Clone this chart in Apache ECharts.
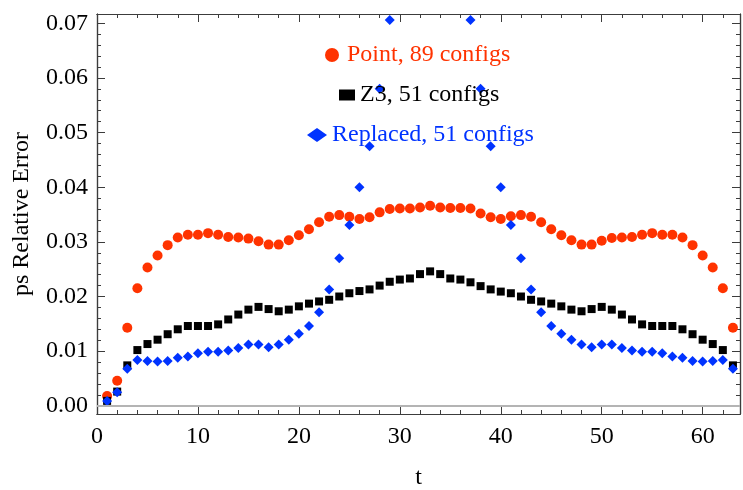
<!DOCTYPE html>
<html><head><meta charset="utf-8">
<script src="https://cdn.jsdelivr.net/npm/echarts@6/dist/echarts.min.js"></script>
<style>html,body{margin:0;padding:0;background:#fff}#c{width:743px;height:490px}</style>
</head><body><div id="c"></div>
<script>
const tValues = [1,2,3,4,5,6,7,8,9,10,11,12,13,14,15,16,17,18,19,20,21,22,23,24,25,26,27,28,29,30,31,32,33,34,35,36,37,38,39,40,41,42,43,44,45,46,47,48,49,50,51,52,53,54,55,56,57,58,59,60,61,62,63];
const pointErr = [0.0018,0.0046,0.0143,0.0215,0.0253,0.0275,0.0294,0.0308,0.0313,0.0313,0.0316,0.0313,0.0309,0.0308,0.0306,0.0301,0.0295,0.0295,0.0303,0.0312,0.0323,0.0336,0.0346,0.0349,0.0346,0.0342,0.0345,0.0354,0.0360,0.0361,0.0361,0.0363,0.0366,0.0363,0.0362,0.0362,0.0361,0.0352,0.0345,0.0342,0.0347,0.0349,0.0346,0.0336,0.0323,0.0312,0.0303,0.0295,0.0295,0.0302,0.0307,0.0308,0.0309,0.0313,0.0316,0.0313,0.0313,0.0308,0.0294,0.0275,0.0253,0.0215,0.0143];
const z3Err = [0.0009,0.0026,0.0074,0.0102,0.0113,0.0121,0.0131,0.0140,0.0146,0.0146,0.0146,0.0149,0.0158,0.0167,0.0176,0.0181,0.0177,0.0173,0.0176,0.0182,0.0187,0.0191,0.0194,0.0200,0.0206,0.0210,0.0213,0.0220,0.0227,0.0231,0.0233,0.0241,0.0246,0.0241,0.0233,0.0231,0.0226,0.0219,0.0213,0.0209,0.0206,0.0200,0.0194,0.0191,0.0187,0.0182,0.0176,0.0173,0.0177,0.0181,0.0176,0.0167,0.0158,0.0149,0.0146,0.0146,0.0146,0.0140,0.0131,0.0121,0.0113,0.0102,0.0074];
const replacedErr = [0.0009,0.0025,0.0068,0.0084,0.0082,0.0081,0.0082,0.0088,0.0090,0.0096,0.0099,0.0099,0.0101,0.0106,0.0112,0.0112,0.0107,0.0112,0.0121,0.0132,0.0146,0.0171,0.0213,0.0270,0.0331,0.0400,0.0475,0.0580,0.0706,0.083,0.093,0.099,0.101,0.099,0.093,0.083,0.0706,0.0580,0.0475,0.0400,0.0331,0.0270,0.0213,0.0171,0.0146,0.0132,0.0121,0.0112,0.0107,0.0112,0.0112,0.0106,0.0101,0.0099,0.0099,0.0096,0.0090,0.0088,0.0082,0.0081,0.0082,0.0084,0.0068];
const seriesNames = ['Point, 89 configs','Z3, 51 configs','Replaced, 51 configs'];
const xMajorTicks = [0,10,20,30,40,50,60];
const xMinorTicks = [2,4,6,8,12,14,16,18,22,24,26,28,32,34,36,38,42,44,46,48,52,54,56,58,62];
const yMajorTicks = [0,0.01,0.02,0.03,0.04,0.05,0.06,0.07];
const yMinorTicks = [0.002,0.004,0.006,0.008,0.012,0.014,0.016,0.018,0.022,0.024,0.026,0.028,0.032,0.034,0.036,0.038,0.042,0.044,0.046,0.048,0.052,0.054,0.056,0.058,0.062,0.064,0.066,0.068];

const SERIF = 'Liberation Serif';
const FRAME = '#3c3c3c';
const RED = '#ff3300', BLACK = '#000000', BLUE = '#0033ff';
const XMIN = 0, XMAX = 63.7, YMIN = -0.0015, YMAX = 0.0717;

function axis(kind, pos, ticks, len, labels, extra) {
  const a = {
    type: 'value', position: pos,
    min: kind === 'x' ? XMIN : YMIN, max: kind === 'x' ? XMAX : YMAX,
    axisLine: {show: true, onZero: false, lineStyle: {color: FRAME, width: 1.2}},
    axisTick: {show: true, inside: true, length: len, customValues: ticks, lineStyle: {color: FRAME, width: 1}},
    axisLabel: labels ? {show: true, customValues: ticks, fontFamily: SERIF, fontSize: 24, color: '#000',
      margin: kind === 'x' ? 11 : 9,
      formatter: kind === 'x' ? (v => String(v)) : (v => v.toFixed(2))} : {show: false},
    splitLine: {show: false}, minorTick: {show: false}, minorSplitLine: {show: false}
  };
  return Object.assign(a, extra || {});
}

const chart = echarts.init(document.getElementById('c'), null, {renderer: 'canvas'});
chart.setOption({
  animation: false,
  backgroundColor: '#fff',
  grid: {left: 97, right: 3, top: 14, bottom: 76, containLabel: false, outerBoundsMode: 'none'},
  xAxis: [
    axis('x', 'bottom', xMajorTicks, 8, true, {name: 't', nameLocation: 'middle', nameGap: 52,
      nameTextStyle: {fontFamily: SERIF, fontSize: 24, color: '#000'}}),
    axis('x', 'bottom', xMinorTicks, 4, false),
    axis('x', 'top', xMajorTicks, 8, false),
    axis('x', 'top', xMinorTicks, 4, false)
  ],
  yAxis: [
    axis('y', 'left', yMajorTicks, 8, true, {name: 'ps Relative Error', nameLocation: 'middle', nameGap: 63,
      nameTextStyle: {fontFamily: SERIF, fontSize: 24, color: '#000'}}),
    axis('y', 'left', yMinorTicks, 4, false),
    axis('y', 'right', yMajorTicks, 8, false),
    axis('y', 'right', yMinorTicks, 4, false)
  ],
  legend: [
    {data: [{name: seriesNames[0], icon: 'circle', textStyle: {color: RED}}], left: 325, top: 43,
     itemWidth: 20, itemHeight: 14, padding: 0, selectedMode: false,
     textStyle: {fontFamily: SERIF, fontSize: 24}},
    {data: [{name: seriesNames[1], icon: 'rect', textStyle: {color: BLACK}}], left: 339, top: 83,
     itemWidth: 16, itemHeight: 11, padding: 0, selectedMode: false,
     textStyle: {fontFamily: SERIF, fontSize: 24}},
    {data: [{name: seriesNames[2], icon: 'diamond', textStyle: {color: BLUE}}], left: 307, top: 123,
     itemWidth: 20, itemHeight: 14, padding: 0, selectedMode: false,
     textStyle: {fontFamily: SERIF, fontSize: 24}}
  ],
  series: [
    {name: 'axis0', type: 'line', data: [], z: 1, silent: true,
     markLine: {silent: true, symbol: 'none', animation: false, label: {show: false},
       lineStyle: {color: '#b4b4b4', width: 2, type: 'solid'}, data: [{yAxis: 0}]}},
    {name: seriesNames[0], type: 'scatter', symbol: 'circle', symbolSize: 10, clip: true,
     itemStyle: {color: RED, opacity: 1}, data: tValues.map((t, i) => [t, pointErr[i]])},
    {name: seriesNames[1], type: 'scatter', symbol: 'rect', symbolSize: 8, clip: true,
     itemStyle: {color: BLACK, opacity: 1}, data: tValues.map((t, i) => [t, z3Err[i]])},
    {name: seriesNames[2], type: 'scatter', symbol: 'diamond', symbolSize: 10, clip: true,
     itemStyle: {color: BLUE, opacity: 1}, data: tValues.map((t, i) => [t, replacedErr[i]])}
  ]
});
</script></body></html>
